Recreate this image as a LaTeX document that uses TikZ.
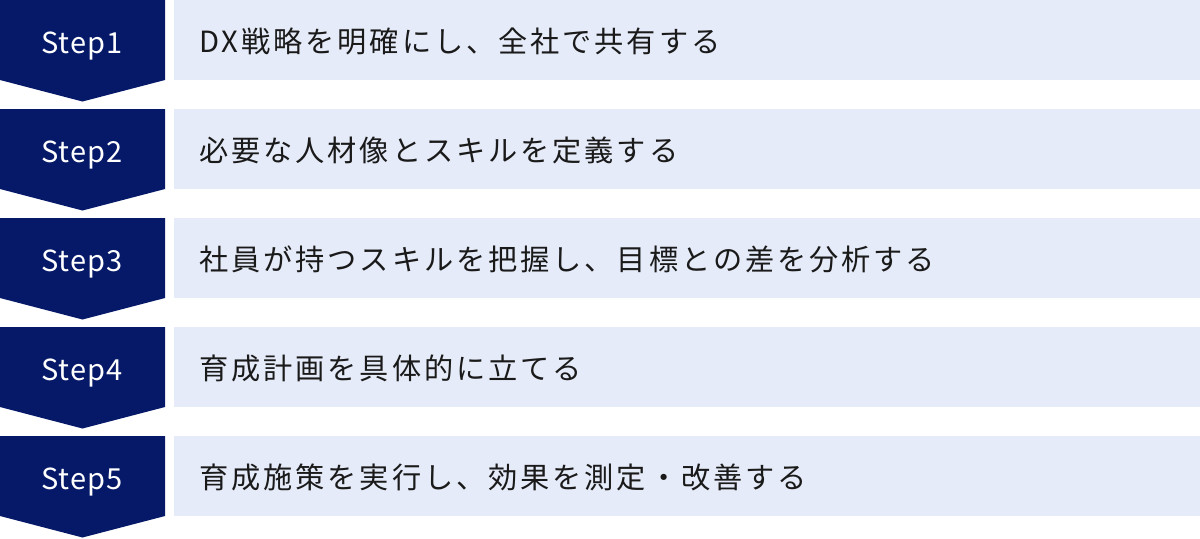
\documentclass[tikz,border=0pt]{standalone}
\usepackage{fontspec}
\newfontfamily\jpfont[LetterSpace=10]{Noto Sans CJK JP}
\newfontfamily\stepfont[LetterSpace=4]{Noto Sans CJK JP}
\definecolor{navy}{HTML}{051968}
\definecolor{pale}{HTML}{E5EBF8}
\definecolor{ink}{HTML}{1A1A1A}
\tikzset{
	steplabel/.style={anchor=base, inner sep=0pt, text=white, font=\stepfont\fontsize{14.5pt}{17pt}\selectfont},
	tasklabel/.style={anchor=base west, inner sep=0pt, text=ink, font=\jpfont\fontsize{14.6pt}{17pt}\selectfont},
}
\newcommand{\chevron}[1]{\fill[navy] (0, #1) -- (165, #1) -- (165, #1+80) -- (82.5, #1+101.5) -- (0, #1+80) -- cycle;}
\newcommand{\taskbox}[1]{\fill[pale] (174, #1) rectangle (1200, #1+80);}

\begin{document}
\begin{tikzpicture}[x=0.5pt, y=-0.5pt]
		%%%%% START %%%%%
		\useasboundingbox (0, 0) rectangle (1200, 538);
		
		\chevron{0}
		\taskbox{0}
		\node[steplabel] (step1) at (82, 53) {Step1};
		\node[tasklabel] (task1) at (199, 52) {DX戦略を明確にし、全社で共有する};
		
		\chevron{109}
		\taskbox{109}
		\node[steplabel] (step2) at (82, 162) {Step2};
		\node[tasklabel] (task2) at (199, 161) {必要な人材像とスキルを定義する};
		
		\chevron{218}
		\taskbox{218}
		\node[steplabel] (step3) at (82, 271) {Step3};
		\node[tasklabel] (task3) at (199, 270) {社員が持つスキルを把握し、目標との差を分析する};
		
		\chevron{327}
		\taskbox{327}
		\node[steplabel] (step4) at (82, 380) {Step4};
		\node[tasklabel] (task4) at (199, 379) {育成計画を具体的に立てる};
		
		\chevron{436}
		\taskbox{436}
		\node[steplabel] (step5) at (82, 489) {Step5};
		\node[tasklabel] (task5) at (199, 488) {育成施策を実行し、効果を測定・改善する};
		%%%%% END %%%%%
\end{tikzpicture}
\end{document}
